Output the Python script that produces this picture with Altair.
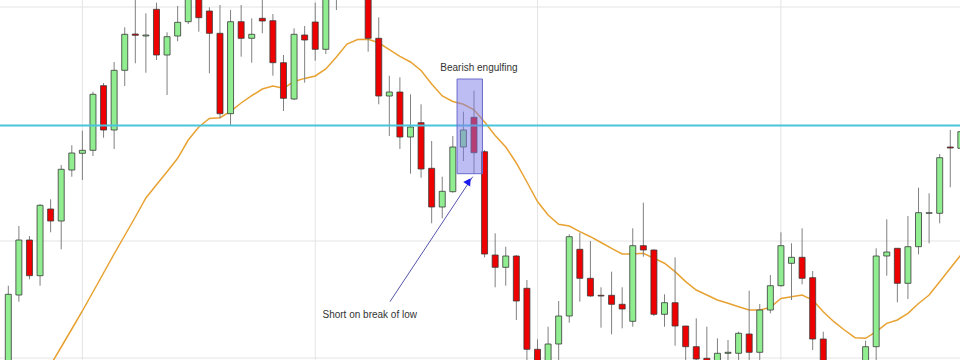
import altair as alt
import pandas as pd

# ---- candle data (price levels) ----
opens = [-15, 65, 120, 84.3, 151, 139, 190, 206.7, 209.7, 274.3,
         230, 289.7, 326, 324, 350.7, 305, 324, 338.3, 368, 349,
         326.7, 246.3, 338.3, 321.7, 341.7, 339.3, 297.3, 261, 325, 338,
         310.7, 375, 410, 405, 370, 321.7, 264, 268, 223, 237.3,
         191.7, 153, 168.3, 213, 242.7, 208.3, 105, 92.7, 104, 71.7,
         10.7, -8, 16, 44, 110.7, 81.7, 64.7, 64.7, 55.7, 38.7,
         114.3, 110, 45.7, 57.3, 34, 13.3, 1.7, -8, 6.7, 6.7,
         26, 7.7, 50, 74.3, 96.7, 102.7, 82.3, 21, -12, -20,
         -32, -15, 13.3, 104, 111.7, 76.7, 113.3, 146.7, 146.7, 213,
         211.7]
highs = [74.3, 134, 124, 156, 160.7, 195, 214.7, 229.3, 268.3, 277,
         298, 332.7, 365, 346.7, 357.3, 327.7, 354, 375, 375, 352.7,
         355, 350, 355, 341.7, 363, 346, 305, 331.7, 334, 357.3,
         380, 410, 420, 415, 380, 342.7, 284.3, 282.7, 265.7, 255.7,
         219, 183.3, 224, 248.3, 269.3, 210, 126.7, 113.3, 105, 80,
         20.7, 33.3, 59, 125.7, 127.3, 119, 72.7, 88.3, 72.7, 131.7,
         157.3, 110.7, 65.7, 102.7, 34, 41.7, 33.3, 21.7, 20, 28.3,
         69.3, 56, 85, 127.7, 116.7, 131.7, 89, 28.3, -5, -10,
         -8, 19.3, 111.7, 140.7, 111.7, 144, 172.3, 166.7, 206, 230,
         229.3]
lows = [-25, 58.3, 80.7, 74.3, 127.7, 110.7, 183.3, 180, 204, 222.3,
        211, 274, 296.7, 287.3, 300, 265, 318.7, 336, 328.3, 286.7,
        241.7, 234.3, 303.3, 297.3, 326.7, 284.3, 249, 260, 277.3, 299.3,
        306, 350, 365, 365, 308.3, 255.7, 224, 211, 186.3, 182.3,
        136.7, 141.7, 167.3, 199, 186.3, 102.7, 72.7, 74.3, 40, -5,
        -20, -15, -5, 37.3, 58.3, 63.3, 32.3, 25.7, 31.7, 33.3,
        103.3, 44, 33.3, 14.3, -5, -8, -20, -15, -5, -5,
        -5, -5, 46.7, 73.3, 60, 75.7, 10, -20, -32, -38,
        -38, -22, -5, 84.3, 57.7, 61, 105.7, 116.7, 136.7, 172.7,
        210]
closes = [65.7, 120, 84.3, 154.7, 139, 190.7, 207, 209.7, 265.7, 230,
          289.7, 325.7, 324.7, 325, 305, 323.3, 337.7, 370, 342.3, 326.7,
          246.3, 338.3, 321.7, 325.7, 339, 297.3, 261.7, 325.7, 320, 310.7,
          375, 400, 385, 380, 321.7, 264, 268, 223, 233, 191,
          153, 168.7, 213, 230, 207.3, 106, 92.7, 104, 59, 10.7,
          -12, 16, 44, 123.3, 81.7, 64, 64, 55.7, 51, 114.3,
          110, 45.7, 57.3, 34, 13.3, 1, -12, 6.7, 7.7, 26.7,
          7.7, 50, 74.3, 114.3, 102.7, 81.7, 21, -12, -25, -32,
          -15, 13.3, 104, 108, 76.7, 113.3, 147.3, 147.3, 202.3, 212,
          228.3]

# ---- moving average, starting at candle 3 ----
ma_start = 3
ma_values = [-22, -5, 13, 31, 49, 68, 87, 106, 124.5, 143,
             162, 175.3, 188.3, 201.7, 220, 233, 241.5, 242.3, 248.7, 257,
             264.3, 271, 274, 271.7, 278.5, 281.6, 284, 291, 303, 316,
             320.5, 320.7, 317.2, 310.4, 303.7, 298, 289.5, 276, 264, 258.5,
             255.7, 250.2, 238, 224.6, 213, 197, 178, 158.5, 145, 135.7,
             134, 128.3, 123.3, 117.5, 111.7, 106, 106, 106.7, 101.7, 96.8,
             88.4, 78.4, 70, 65, 60, 56.7, 53.3, 50, 50, 52.7,
             61.5, 63.3, 65, 60, 48.3, 38.3, 30, 22.3, 21.7, 28.3,
             36.7, 40, 46.7, 56.5, 65, 78.3, 91.7, 105]

grid_levels = [353, 119, 2]
grid_candles = [7, 29, 50, 73]
resistance_level = [234.5]

box_x = [42.4]; box_x2 = [44.8]; box_y = [186.3]; box_y2 = [281]
label_text = ["Bearish engulfing", "Short on break of low"]
label_x = [44.47, 34.15]
label_y = [291.7, 45]
arrow_from = (36.06, 58.3)
arrow_to = (43.88, 183.3)
arrow_head = (43.5, 178.8)

n = len(opens)
df = pd.DataFrame({"i": list(range(n)), "open": opens, "high": highs,
                   "low": lows, "close": closes})
df["dir"] = ["up" if c >= o else "down" for o, c in zip(opens, closes)]
ma_df = pd.DataFrame({"i": list(range(ma_start, ma_start + len(ma_values))),
                      "ma": ma_values})

xs = alt.Scale(domain=[-0.784, 89.919], nice=False, zero=False, padding=0)
ys = alt.Scale(domain=[0, 360], nice=False, zero=False, padding=0)

def X(f):
    return alt.X(f, type="quantitative", scale=xs, axis=None)

def Y(f):
    return alt.Y(f, type="quantitative", scale=ys, axis=None)

hgrid = alt.Chart(pd.DataFrame({"level": grid_levels})).mark_rule(
    color="#e4e4e4", strokeWidth=1).encode(y=Y("level"))
vgrid = alt.Chart(pd.DataFrame({"i": grid_candles})).mark_rule(
    color="#e4e4e4", strokeWidth=1).encode(x=X("i"))

ma_line = alt.Chart(ma_df).mark_line(color="#e8a232", strokeWidth=1.5,
                                     clip=True).encode(x=X("i"), y=Y("ma"))

wicks = alt.Chart(df).mark_rule(color="#808080", strokeWidth=1,
                                clip=True).encode(
    x=X("i"), y=Y("low"), y2="high")

bodies = alt.Chart(df).mark_bar(width=6, stroke="#3a3a3a", strokeWidth=0.8,
                                clip=True).encode(
    x=X("i"), y=Y("open"), y2="close",
    color=alt.Color("dir:N", scale=alt.Scale(domain=["up", "down"],
                                             range=["#90ee90", "#ee0000"]),
                    legend=None))

resist = alt.Chart(pd.DataFrame({"level": resistance_level})).mark_rule(
    color="#48c4dc", strokeWidth=2).encode(y=Y("level"))

box = alt.Chart(pd.DataFrame({"x": box_x, "x2": box_x2, "y": box_y,
                              "y2": box_y2})).mark_rect(
    fill="#7b7be8", fillOpacity=0.5, stroke="#6a6acc",
    strokeWidth=1).encode(x=X("x"), x2="x2", y=Y("y"), y2="y2")

labels = alt.Chart(pd.DataFrame({"t": label_text, "x": label_x,
                                 "y": label_y})).mark_text(
    font="Liberation Sans", fontSize=10, color="#333333", align="center",
    baseline="middle").encode(x=X("x"), y=Y("y"), text="t:N")

arrow_line = alt.Chart(pd.DataFrame({"x": [arrow_from[0]], "y": [arrow_from[1]],
                                     "x2": [arrow_to[0]], "y2": [arrow_to[1]]})
                       ).mark_rule(color="#5555aa", strokeWidth=1).encode(
    x=X("x"), y=Y("y"), x2="x2", y2="y2")

arrow_tip = alt.Chart(pd.DataFrame({"x": [arrow_head[0]], "y": [arrow_head[1]]})
                      ).mark_point(shape="triangle-up", filled=True,
                                   color="#1a1aee", size=70, opacity=1,
                                   angle=33.5).encode(x=X("x"), y=Y("y"))

chart = alt.layer(hgrid, vgrid, ma_line, wicks, bodies, resist, box,
                  labels, arrow_line, arrow_tip).properties(
    width=960, height=360, padding=0, autosize=alt.AutoSizeParams(type="none"),
    background="white"
).configure_view(stroke=None)

chart.save("out.html", embed_options={"renderer": "svg", "actions": False})
